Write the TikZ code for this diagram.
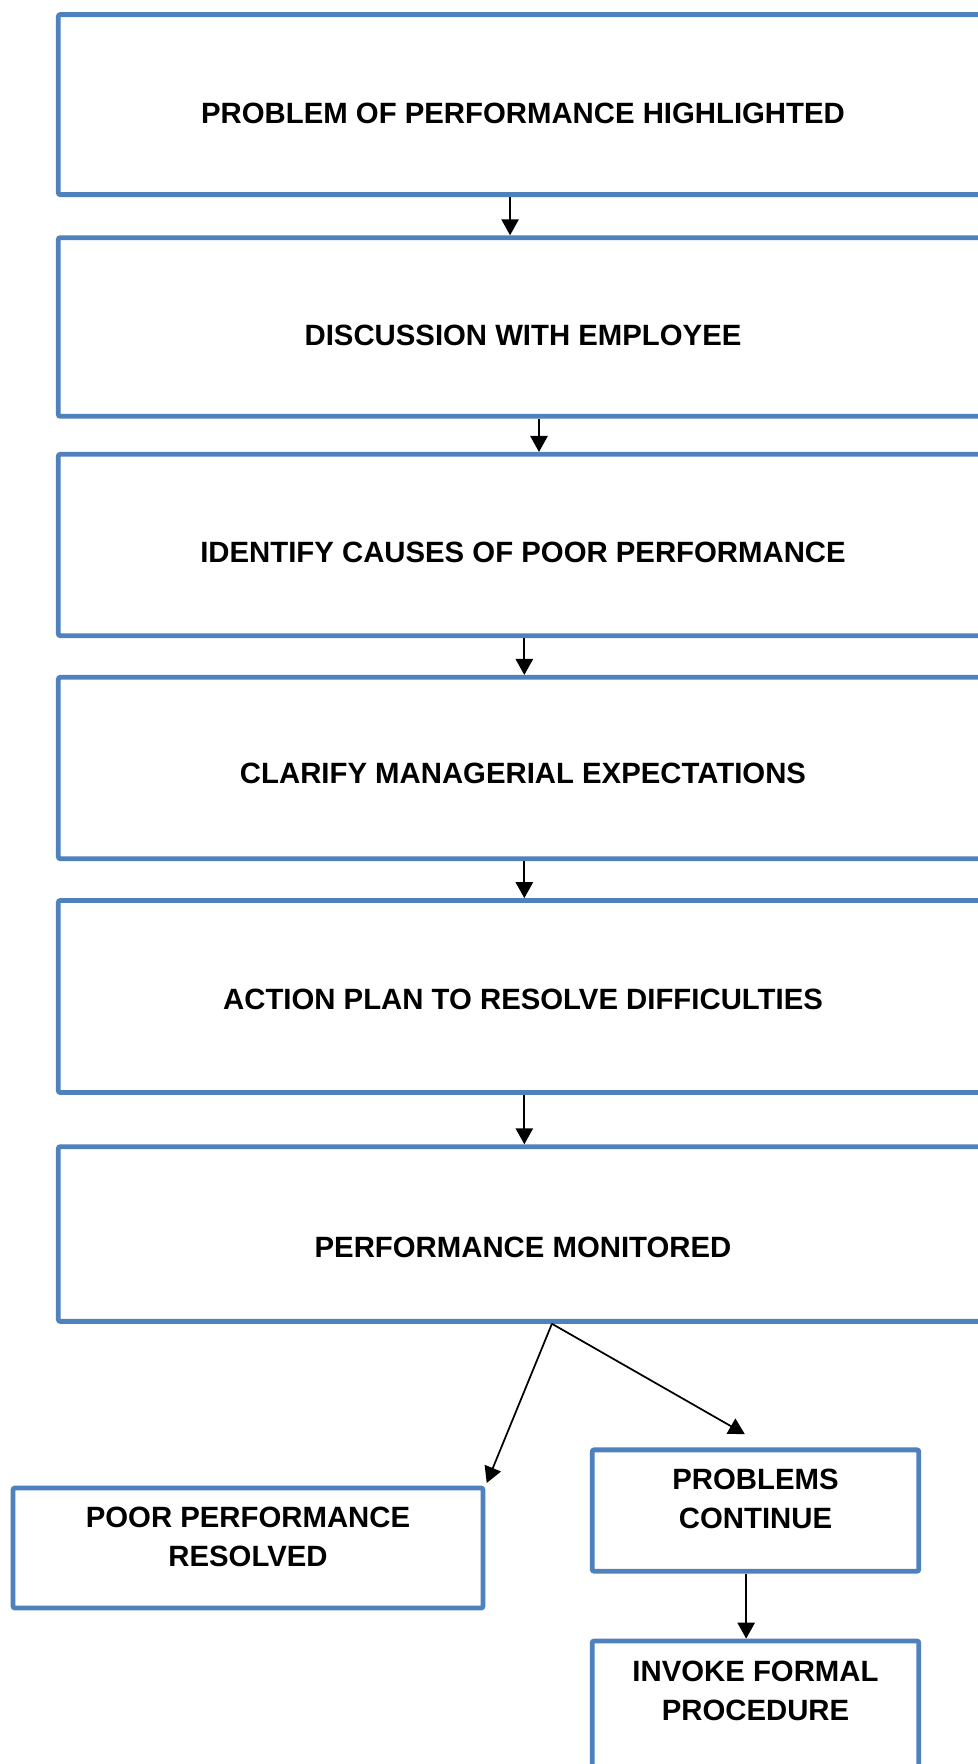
\documentclass[tikz,border=0pt]{standalone}
\usepackage{fontspec}
\setmainfont{Liberation Sans}
\usetikzlibrary{arrows.meta}
\definecolor{boxblue}{HTML}{4F81BD}
\tikzset{
  flowbox/.style={draw=boxblue, line width=3.6pt, rounded corners=1.5pt, fill=white, inner sep=0pt},
  stepbox/.style={flowbox, minimum width=697pt},
  boxtext/.style={font=\bfseries\fontsize{22}{29.25}\selectfont, align=center, inner sep=0pt},
  flowarrow/.style={-{Triangle[width=13pt,length=12pt]}, line width=1.3pt, black}
}

\begin{document}
\begin{tikzpicture}[x=0.75pt,y=-0.75pt]
  \fill[white] (0,0) rectangle (978,1764);
  \useasboundingbox (0,0) rectangle (978,1764);
  % main steps
  \node[stepbox, minimum height=135pt, label={[boxtext,yshift=-6.8pt]center:PROBLEM OF PERFORMANCE HIGHLIGHTED}] (highlighted) at (523,104.6) {};
  \node[stepbox, minimum height=134pt, label={[boxtext,yshift=-6.3pt]center:DISCUSSION WITH EMPLOYEE}] (discussion) at (523,327) {};
  \node[stepbox, minimum height=136pt, label={[boxtext,yshift=-5.7pt]center:IDENTIFY CAUSES OF POOR PERFORMANCE}] (causes) at (523,545) {};
  \node[stepbox, minimum height=136pt, label={[boxtext,yshift=-3.8pt]center:CLARIFY MANAGERIAL EXPECTATIONS}] (expectations) at (523,768) {};
  \node[stepbox, minimum height=144pt, label={[boxtext,yshift=-1.9pt]center:ACTION PLAN TO RESOLVE DIFFICULTIES}] (actionplan) at (523,996.5) {};
  \node[stepbox, minimum height=131pt, label={[boxtext,yshift=-9.7pt]center:PERFORMANCE MONITORED}] (monitored) at (523,1234) {};
  % outcomes
  \node[flowbox, minimum width=352.5pt, minimum height=90pt, label={[boxtext,yshift=8.2pt]center:POOR PERFORMANCE\\RESOLVED}] (resolved) at (248,1548) {};
  \node[flowbox, minimum width=245pt, minimum height=91pt, label={[boxtext,yshift=8.6pt]center:PROBLEMS\\CONTINUE}] (continue) at (755.5,1510.5) {};
  \node[flowbox, minimum width=245pt, minimum height=105pt, label={[boxtext,yshift=15.4pt]center:INVOKE FORMAL\\PROCEDURE}] (formal) at (755.5,1711) {};
  % arrows
  \draw[flowarrow] ([xshift=-9.7pt]highlighted.south) -- ([xshift=-9.7pt]discussion.north);
  \draw[flowarrow] ([xshift=12pt]discussion.south) -- ([xshift=12pt]causes.north);
  \draw[flowarrow] ([xshift=1pt]causes.south) -- ([xshift=1pt]expectations.north);
  \draw[flowarrow] ([xshift=1pt]expectations.south) -- ([xshift=1pt]actionplan.north);
  \draw[flowarrow] ([xshift=1pt]actionplan.south) -- ([xshift=1pt]monitored.north);
  \draw[flowarrow] ([xshift=21.7pt]monitored.south) -- ([xshift=1pt,yshift=2pt]resolved.north east);
  \draw[flowarrow] ([xshift=21.7pt]monitored.south) -- ([xshift=-8pt,yshift=10pt]continue.north);
  \draw[flowarrow] ([xshift=-7pt]continue.south) -- ([xshift=-7pt]formal.north);
\end{tikzpicture}
\end{document}
